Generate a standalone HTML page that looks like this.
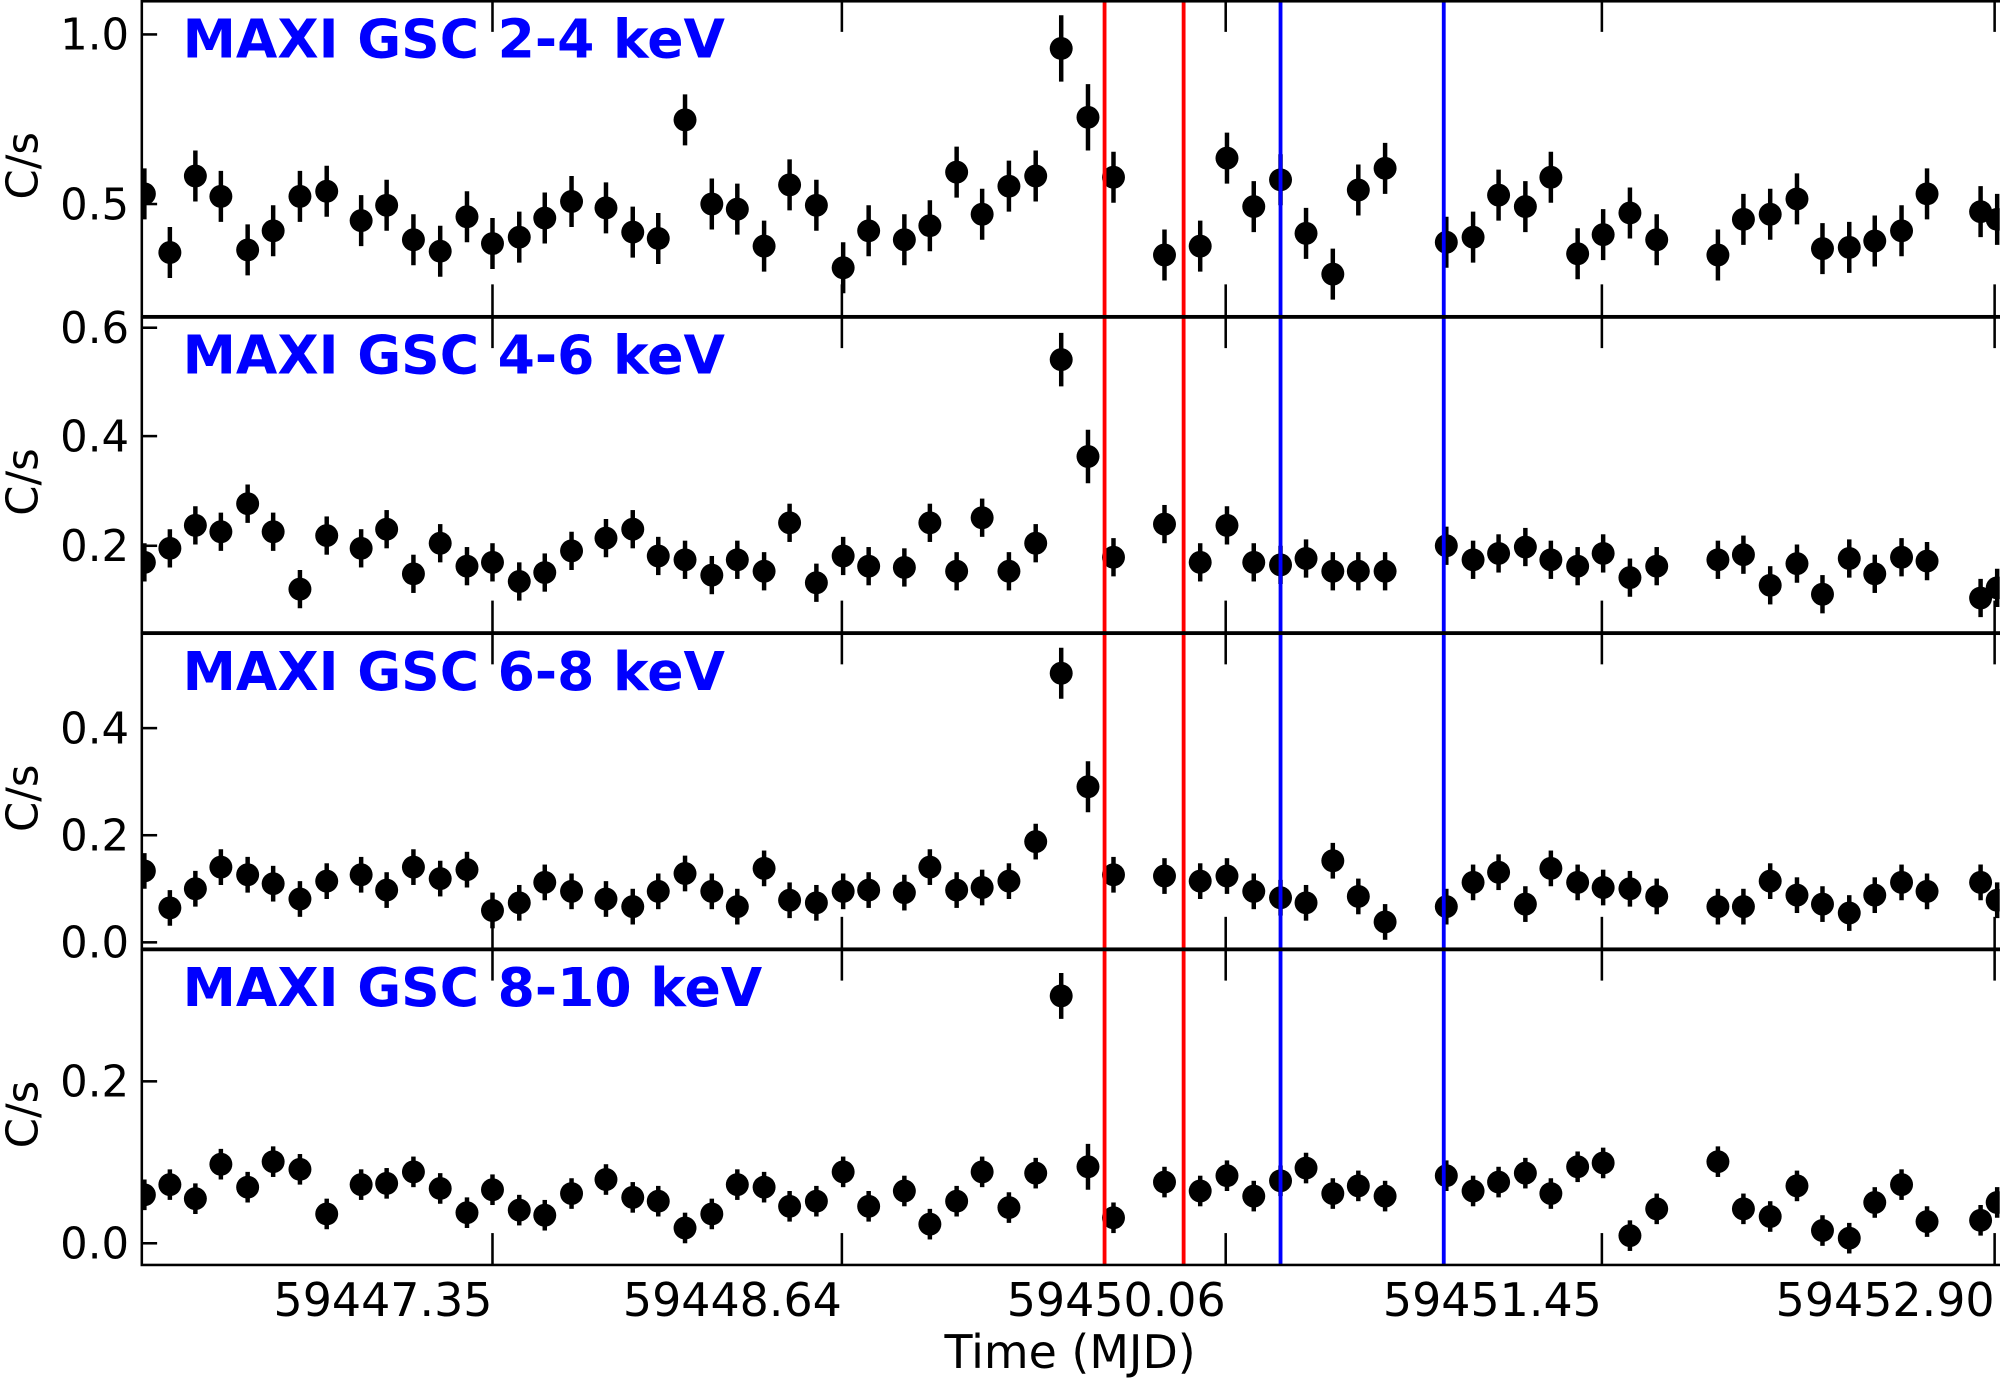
<!DOCTYPE html>
<html><head><meta charset="utf-8"><style>
html,body{margin:0;padding:0;background:#fff;}
svg{display:block;}
text{font-family:"DejaVu Sans","Liberation Sans",sans-serif;}
</style></head><body>
<svg id="s" width="2000" height="1381" viewBox="0 0 1568 1083" xmlns="http://www.w3.org/2000/svg">
<rect width="1568" height="1083" fill="#fff"/>
</svg>
<script>
const s=document.getElementById('s');
let h='';
const xs=[113,133,153,173,194,214,235,256,283,303,324,345,366,386,407,427,448,475,496,516,537,558,578,599,619,640,661,681,709,729,750,770,791,812,832,853,873,913,941,962,983,1004,1024,1045,1065,1086,1134,1155,1175,1196,1216,1237,1257,1278,1299,1347,1367,1388,1409,1429,1450,1470,1491,1511,1553,1566];
const P=[
[152,198,138,154,196,181,154,150,173,161,188,197,170,191,186,171,158,163,182,187,94,160,164,193,145,161,210,181,188,177,135,168,146,138,38,92,139,200,193,124,162,141,183,215,149,132,190,186,153,162,139,199,184,167,188,200,172,168,156,195,194,189,181,152,166,172],
[441,430,412,417,395,417,462,420,430,415,450,426,444,441,456,449,432,422,415,436,439,451,439,448,410,457,436,444,445,410,448,406,448,426,282,358,437,411,441,412,441,443,438,448,448,448,428,439,434,429,439,444,434,453,444,439,435,459,442,466,438,450,437,440,469,461],
[683,712,697,680,686,693,705,691,686,698,680,689,682,714,708,692,699,705,711,699,685,699,711,681,706,708,699,698,700,680,698,696,691,660,528,617,686,687,691,687,699,704,708,675,703,723,711,692,684,709,681,692,696,697,703,711,711,691,702,709,716,702,692,699,692,706],
[937,929,940,913,931,911,917,952,929,928,919,932,951,933,949,953,936,925,939,942,963,952,929,931,946,942,919,946,934,960,942,919,947,920,781,915,955,927,934,922,938,926,916,936,930,938,922,934,927,920,936,915,912,969,948,911,948,954,930,965,971,943,929,958,957,943]];
const E=[20,15,14,12];
const tops=[0,248,496,744];
h+='<defs><clipPath id="c"><rect x="111" y="0" width="1457" height="992"/></clipPath></defs>';
h+='<g clip-path="url(#c)">';
P.forEach((arr,i)=>{arr.forEach((y,j)=>{let x=xs[j];let e=E[i];if(j==34||j==35)e+=6;
h+=`<line x1="${x}" y1="${y-e}" x2="${x}" y2="${y+e}" stroke="#000" stroke-width="3.5"/><circle cx="${x}" cy="${y}" r="9" fill="#000"/>`;});});
h+='</g>';
[[866,'#f00'],[928,'#f00'],[1004,'#00f'],[1132,'#00f']].forEach(([x,c])=>h+=`<line x1="${x}" y1="0" x2="${x}" y2="992" stroke="${c}" stroke-width="3"/>`);
const xt=[[386,'59447.35'],[660,'59448.64'],[961,'59450.06'],[1256,'59451.45'],[1564,'59452.90']];
tops.forEach(t=>{
 h+=`<rect x="111" y="${t+1}" width="1470" height="247" fill="none" stroke="#000" stroke-width="2"/>`;
 xt.forEach(([x])=>{h+=`<line x1="${x}" y1="${t}" x2="${x}" y2="${t+25}" stroke="#000" stroke-width="2"/><line x1="${x}" y1="${t+248}" x2="${x}" y2="${t+223}" stroke="#000" stroke-width="2"/>`;});
});
const yt=[[[27,'1.0'],[160,'0.5']],[[257,'0.6'],[342,'0.4'],[428,'0.2']],[[571,'0.4'],[655,'0.2'],[739,'0.0']],[[848,'0.2'],[975,'0.0']]];
yt.forEach(a=>a.forEach(([y,l])=>{h+=`<line x1="111" y1="${y}" x2="123" y2="${y}" stroke="#000" stroke-width="2"/><text x="101" y="${y+12}" font-size="34" text-anchor="end">${l}</text>`;}));
const labs=['2-4','4-6','6-8','8-10'];
tops.forEach((t,i)=>{h+=`<text x="143" y="${t+45}" font-size="42" font-weight="bold" fill="#00f">MAXI GSC ${labs[i]} keV</text>`;
 h+=`<text transform="translate(29,${t+130}) rotate(-90)" font-size="34" text-anchor="middle">C/s</text>`;});
xt.forEach(([x,l])=>h+=`<text x="${x}" y="1032" font-size="36" text-anchor="end">${l}</text>`);
h+='<text x="839" y="1073" font-size="36" text-anchor="middle">Time (MJD)</text>';
s.innerHTML+=h;
</script>
</body></html>
